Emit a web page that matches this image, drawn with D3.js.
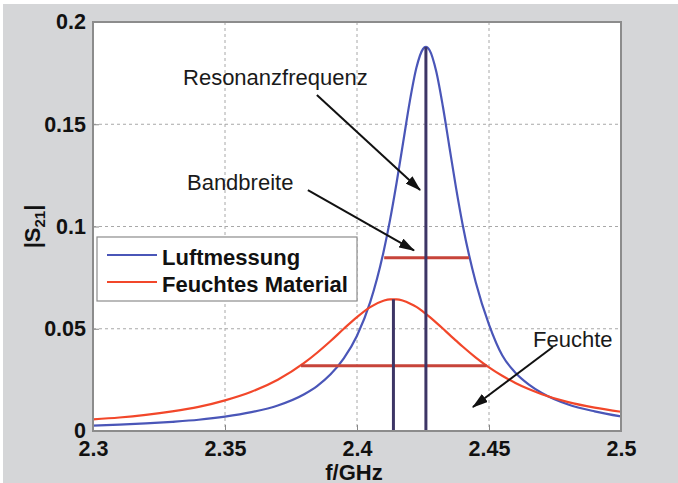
<!DOCTYPE html>
<html>
<head>
<meta charset="utf-8">
<script src="https://cdn.jsdelivr.net/npm/d3@7"></script>
<style>
body { margin: 0; background: #fff; }
text { font-family: "Liberation Sans", Arial, Helvetica, sans-serif; }
</style>
</head>
<body>
<div id="chart"></div>
<script>
// frequencies (GHz) shared by both measurements
var freq = [2.30, 2.31, 2.32, 2.33, 2.34, 2.35, 2.36, 2.37, 2.38, 2.385, 2.39, 2.395, 2.40, 2.405, 2.41,
    2.4125, 2.415, 2.4175, 2.42, 2.4225, 2.425, 2.4261, 2.4275, 2.43, 2.4325, 2.435, 2.4375, 2.44, 2.445,
    2.45, 2.455, 2.46, 2.465, 2.47, 2.48, 2.49, 2.50];

// |S21| values
var luftmessung = [0.0026, 0.0031, 0.0037, 0.0045, 0.0055, 0.0070, 0.0092, 0.0125, 0.0180, 0.0221, 0.0277,
    0.0355, 0.0466, 0.0630, 0.0873, 0.1031, 0.1214, 0.1413, 0.1612, 0.1776, 0.1868, 0.1878, 0.1862, 0.1759,
    0.1589, 0.1389, 0.1190, 0.1010, 0.0726, 0.0520, 0.0370, 0.0285, 0.0228, 0.0186, 0.0130, 0.0096, 0.0071];

var feuchtesMaterial = [0.0057, 0.0066, 0.0079, 0.0096, 0.0118, 0.0150, 0.0192, 0.0251, 0.0333, 0.0384, 0.0440,
    0.0500, 0.0557, 0.0606, 0.0637, 0.0644, 0.0644, 0.0637, 0.0624, 0.0607, 0.0584, 0.0573, 0.0558, 0.0530,
    0.0501, 0.0471, 0.0442, 0.0413, 0.0359, 0.0311, 0.0270, 0.0235, 0.0205, 0.0180, 0.0141, 0.0114, 0.0094];

var seriesNames = ["Luftmessung", "Feuchtes Material"];
var seriesColors = ["#4a56b8", "#f2472a"];

var xTicks = [2.3, 2.35, 2.4, 2.45, 2.5];
var xTickLabels = ["2.3", "2.35", "2.4", "2.45", "2.5"];
var yTicks = [0, 0.05, 0.1, 0.15, 0.2];
var yTickLabels = ["0", "0.05", "0.1", "0.15", "0.2"];

// resonance frequency and peak of each curve
var resonanceFreq = [2.4261, 2.4138];
var resonancePeak = [0.1878, 0.0644];

// bandwidth bars: start, end, level
var bandStart = [2.4103, 2.3788];
var bandEnd = [2.4424, 2.4491];
var bandLevel = [0.0847, 0.0319];

// annotation labels and arrows (in data units)
var noteTexts = ["Resonanzfrequenz", "Bandbreite", "Feuchte"];
var noteTextPos = [[2.3341, 0.1692], [2.3356, 0.1178], [2.4667, 0.0411]];
var arrowFrom = [[2.3848, 0.1643], [2.3814, 0.1178], [2.4742, 0.0411]];
var arrowTo = [[2.4239, 0.1178], [2.4216, 0.0883], [2.4439, 0.0117]];

//Set dimensions
var width = 678,
    height = 483,
    margin = {left: 93, top: 22, right: 57, bottom: 52},
    plotW = width - margin.left - margin.right,
    plotH = height - margin.top - margin.bottom;

var svg = d3.select("#chart").append("svg")
    .attr("width", width)
    .attr("height", height);

//Gray figure background
svg.append("rect")
    .attr("x", 3).attr("y", 4)
    .attr("width", width - 3).attr("height", height - 4)
    .attr("fill", "#d5d6d8");

var g = svg.append("g")
    .attr("transform", "translate(" + margin.left + "," + margin.top + ")");

var x = d3.scaleLinear().domain([2.3, 2.5]).range([0, plotW]);
var y = d3.scaleLinear().domain([0, 0.2]).range([plotH, 0]);

g.append("rect")
    .attr("width", plotW).attr("height", plotH)
    .attr("fill", "#fff");

g.append("clipPath").attr("id", "clip")
    .append("rect").attr("width", plotW).attr("height", plotH);

//Grid lines
g.selectAll(".gx").data(xTicks.slice(1, -1)).enter().append("line")
    .attr("x1", function (d) { return x(d); })
    .attr("x2", function (d) { return x(d); })
    .attr("y1", 0).attr("y2", plotH)
    .attr("stroke", "#a8a8a8").attr("stroke-dasharray", "3,3");
g.selectAll(".gy").data(yTicks.slice(1, -1)).enter().append("line")
    .attr("y1", function (d) { return y(d); })
    .attr("y2", function (d) { return y(d); })
    .attr("x1", 0).attr("x2", plotW)
    .attr("stroke", "#a8a8a8").attr("stroke-dasharray", "3,3");

//Axes
var xAxis = d3.axisBottom(x).tickValues(xTicks)
    .tickFormat(function (d, i) { return xTickLabels[i]; })
    .tickSize(-6).tickPadding(10);
var yAxis = d3.axisLeft(y).tickValues(yTicks)
    .tickFormat(function (d, i) { return yTickLabels[i]; })
    .tickSize(-6).tickPadding(7);

var gx = g.append("g").attr("transform", "translate(0," + plotH + ")").call(xAxis);
var gy = g.append("g").call(yAxis);
[gx, gy].forEach(function (a) {
    a.select(".domain").remove();
    a.selectAll(".tick line").attr("stroke", "#888");
    a.selectAll("text")
        .attr("fill", "#111")
        .style("font-size", "21.5px")
        .style("font-weight", "bold")
        .style("font-family", "'Liberation Sans', Arial, sans-serif");
});

//Curves
var series = [luftmessung, feuchtesMaterial];
var line = d3.line()
    .x(function (d) { return x(d[0]); })
    .y(function (d) { return y(d[1]); })
    .curve(d3.curveMonotoneX);

series.forEach(function (vals, k) {
    g.append("path")
        .datum(freq.map(function (f, i) { return [f, vals[i]]; }))
        .attr("clip-path", "url(#clip)")
        .attr("fill", "none")
        .attr("stroke", seriesColors[k])
        .attr("stroke-width", 2.2)
        .attr("d", line);
});

//Bandwidth bars
g.selectAll(".band").data(bandLevel).enter().append("line")
    .attr("x1", function (d, i) { return x(bandStart[i]); })
    .attr("x2", function (d, i) { return x(bandEnd[i]); })
    .attr("y1", function (d) { return y(d); })
    .attr("y2", function (d) { return y(d); })
    .attr("stroke", "#c7443a")
    .attr("stroke-width", 3);

//Resonance lines
g.selectAll(".res").data(resonanceFreq).enter().append("line")
    .attr("x1", function (d) { return x(d); })
    .attr("x2", function (d) { return x(d); })
    .attr("y1", y(0))
    .attr("y2", function (d, i) { return y(resonancePeak[i]); })
    .attr("stroke", "#3d3566")
    .attr("stroke-width", 3);

//Plot border
g.append("rect")
    .attr("width", plotW).attr("height", plotH)
    .attr("fill", "none")
    .attr("stroke", "#8c8c8c")
    .attr("stroke-width", 2);

//Legend
var legend = g.append("g").attr("transform", "translate(4,215)");
legend.append("rect")
    .attr("width", 260).attr("height", 64)
    .attr("fill", "#fff")
    .attr("stroke", "#8c8c8c")
    .attr("stroke-width", 1.2);
seriesNames.forEach(function (name, i) {
    legend.append("line")
        .attr("x1", 10).attr("x2", 60)
        .attr("y1", 18 + i * 27).attr("y2", 18 + i * 27)
        .attr("stroke", seriesColors[i])
        .attr("stroke-width", 2.2);
    legend.append("text")
        .attr("x", 65).attr("y", 28 + i * 27)
        .style("font-size", "22px")
        .style("font-weight", "bold")
        .attr("fill", "#111")
        .text(name);
});

//Annotations
var defs = svg.append("defs");
defs.append("marker")
    .attr("id", "arrow")
    .attr("markerUnits", "userSpaceOnUse")
    .attr("markerWidth", 16).attr("markerHeight", 10)
    .attr("refX", 15).attr("refY", 5)
    .attr("orient", "auto")
    .append("path")
    .attr("d", "M0,0L16,5L0,10Z")
    .attr("fill", "#111");

g.selectAll(".arrow").data(arrowFrom).enter().append("line")
    .attr("x1", function (d) { return x(d[0]); })
    .attr("y1", function (d) { return y(d[1]); })
    .attr("x2", function (d, i) { return x(arrowTo[i][0]); })
    .attr("y2", function (d, i) { return y(arrowTo[i][1]); })
    .attr("stroke", "#111")
    .attr("stroke-width", 2)
    .attr("marker-end", "url(#arrow)");

g.selectAll(".note").data(noteTexts).enter().append("text")
    .attr("x", function (d, i) { return x(noteTextPos[i][0]); })
    .attr("y", function (d, i) { return y(noteTextPos[i][1]); })
    .style("font-size", "22px")
    .attr("fill", "#1a1a1a")
    .text(function (d) { return d; });

//Axis labels
svg.append("text")
    .attr("x", margin.left + plotW / 2 - 3)
    .attr("y", 480)
    .attr("text-anchor", "middle")
    .style("font-size", "22px")
    .style("font-weight", "bold")
    .attr("fill", "#111")
    .text("f/GHz");

var yl = svg.append("text")
    .attr("transform", "translate(40," + (margin.top + plotH / 2) + ") rotate(-90)")
    .attr("text-anchor", "middle")
    .style("font-size", "22px")
    .style("font-weight", "bold")
    .attr("fill", "#111");
yl.append("tspan").text("|S");
yl.append("tspan").attr("dy", 5).style("font-size", "15px").text("21");
yl.append("tspan").attr("dy", -5).text("|");
</script>
</body>
</html>
